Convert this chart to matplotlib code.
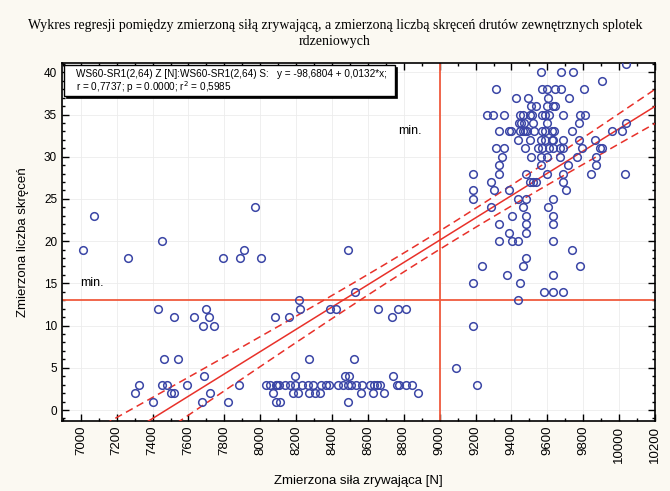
import numpy as np
import matplotlib.pyplot as plt
from matplotlib.ticker import MultipleLocator
from matplotlib.patches import Rectangle

# liczba skrecen -> zmierzona sila [N]
poziomy_lewe = [24, 23, 20, 19, 18, 14, 13, 12, 11, 10, 6, 4, 3, 2, 1]
sily_lewe = [
    [7970],
    [7072],
    [7451],
    [7013, 7910, 8490],
    [7264, 7790, 7888, 8005],
    [8527],
    [8215],
    [7431, 7700, 8220, 8390, 8420, 8655, 8770, 8810],
    [7520, 7628, 7715, 8080, 8160, 8735],
    [7682, 7743],
    [7461, 7539, 8269, 8525],
    [7689, 8193, 8470, 8492, 8737],
    [7323, 7450, 7479, 7592, 7881, 8030, 8057, 8085, 8096, 8104, 8137, 8165,
     8193, 8230, 8264, 8295, 8336, 8366, 8382, 8434, 8462, 8490, 8503, 8533,
     8565, 8611, 8633, 8648, 8670, 8763, 8773, 8815, 8845],
    [7301, 7503, 7522, 7721, 8072, 8183, 8211, 8271, 8304, 8332, 8559, 8629,
     8689, 8880],
    [7403, 7673, 7821, 8085, 8109, 8487],
]

poziomy_prawe = [41, 40, 39, 38, 37, 36, 35, 34, 33, 32, 31, 30, 29, 28, 27,
                 26, 25, 24, 23, 22, 21, 20, 19, 18, 17, 16, 15, 14, 13, 10,
                 5, 3]
sily_prawe = [
    [10036],
    [9564, 9676, 9744],
    [9902],
    [9313, 9568, 9596, 9642, 9674, 9805],
    [9423, 9493, 9601, 9722],
    [9508, 9535, 9600, 9629, 9645],
    [9261, 9295, 9358, 9447, 9462, 9503, 9516, 9568, 9586, 9610, 9685, 9780,
     9810],
    [9440, 9455, 9468, 9521, 9596, 9777, 10036],
    [9328, 9387, 9395, 9447, 9462, 9475, 9488, 9525, 9568, 9586, 9624, 9637,
     9735, 9960, 10014],
    [9434, 9503, 9562, 9586, 9624, 9633, 9689, 9777, 9865],
    [9313, 9360, 9477, 9549, 9568, 9609, 9633, 9670, 9685, 9795, 9895, 9903],
    [9345, 9510, 9562, 9600, 9672, 9763, 9871],
    [9332, 9562, 9716, 9871],
    [9183, 9332, 9480, 9599, 9685, 9841, 10032],
    [9285, 9503, 9521, 9536, 9685],
    [9183, 9302, 9387, 9703],
    [9183, 9434, 9480, 9633],
    [9285, 9462, 9601],
    [9404, 9480, 9633],
    [9332, 9480, 9633],
    [9387, 9480],
    [9332, 9404, 9438, 9633],
    [9735],
    [9480],
    [9237, 9462, 9781],
    [9376, 9633],
    [9183, 9447],
    [9582, 9633, 9685],
    [9434],
    [9183],
    [9089],
    [9209],
]

a, b = -98.6804, 0.0132   # rownanie regresji z opisu
prog_x, prog_y = 9000, 13

x = []
y = []
for poz, sily in zip(poziomy_lewe + poziomy_prawe, sily_lewe + sily_prawe):
    x += sily
    y += [poz] * len(sily)
x = np.array(x, dtype=float)
y = np.array(y, dtype=float)

# 95% przedzial ufnosci dla prostej
n = len(x)
res = y - (a + b * x)
s = np.sqrt(np.sum(res ** 2) / (n - 2))
sxx = np.sum((x - x.mean()) ** 2)
xl = np.linspace(6895, 10200, 300)
yl = a + b * xl
ci = 1.97 * s * np.sqrt(1.0 / n + (xl - x.mean()) ** 2 / sxx)

fig = plt.figure(figsize=(6.7, 4.91), dpi=100)
fig.patch.set_facecolor('#fbf9f2')
ax = fig.add_axes([62 / 670, 1 - 421 / 491, (655 - 62) / 670, (421 - 63) / 491])
ax.set_facecolor('white')

ax.grid(True, which='major', color='#ececec', lw=0.6)
ax.set_axisbelow(True)

ax.axvline(prog_x, color='#f05a3e', lw=1.3, zorder=2)
ax.axhline(prog_y, color='#f05a3e', lw=1.3, zorder=2)
ax.plot(xl, yl, color='#e8312a', lw=1.1, zorder=3)
ax.plot(xl, yl + ci, color='#e8312a', lw=1.1, ls=(0, (5, 3)), zorder=3)
ax.plot(xl, yl - ci, color='#e8312a', lw=1.1, ls=(0, (5, 3)), zorder=3)

ax.plot(x, y, 'o', mfc='none', mec='#3b46a6', ms=5.5, mew=1.1, zorder=4)

ax.text(6995, 15, 'min.', fontsize=9, va='center', family='Liberation Sans')
ax.text(8767, 33.1, 'min.', fontsize=9, va='center', family='Liberation Sans')

# ramka z opisem regresji (z cieniem)
bx0, bx1 = 0.003, 0.5615
by0, by1 = 0.908, 0.994
ax.add_patch(Rectangle((bx0 + 0.0034, by0 - 0.0056), bx1 - bx0, by1 - by0,
                       transform=ax.transAxes, fc='black', ec='black', lw=0.5,
                       zorder=5))
ax.add_patch(Rectangle((bx0, by0), bx1 - bx0, by1 - by0, transform=ax.transAxes,
                       fc='white', ec='black', lw=1, zorder=6))
ax.text(0.0236, 0.969, 'WS60-SR1(2,64) Z [N]:WS60-SR1(2,64) S:   '
        'y = -98,6804 + 0,0132*x;', transform=ax.transAxes, fontsize=7.2,
        va='center', family='Liberation Sans', zorder=7)
ax.text(0.0236, 0.932, 'r = 0,7737; p = 0.0000; r$^2$ = 0,5985',
        transform=ax.transAxes, fontsize=7.2, va='center',
        family='Liberation Sans', zorder=7)

ax.set_xlim(6895, 10200)
ax.set_ylim(-1.3, 41.1)
ax.xaxis.set_major_locator(MultipleLocator(200))
ax.xaxis.set_minor_locator(MultipleLocator(100))
ax.yaxis.set_major_locator(MultipleLocator(5))
ax.yaxis.set_minor_locator(MultipleLocator(1))
ax.tick_params(which='both', direction='in', top=True, right=True, width=1)
ax.tick_params(axis='x', labelsize=9.5)
ax.tick_params(axis='y', labelsize=8.5)
ax.tick_params(which='major', length=5)
ax.tick_params(which='minor', length=2.5)
for lab in ax.get_xticklabels() + ax.get_yticklabels():
    lab.set_family('Liberation Sans')
for lab in ax.get_xticklabels():
    lab.set_rotation(90)
for sp in ax.spines.values():
    sp.set_linewidth(1.2)

ax.set_xlabel('Zmierzona siła zrywająca [N]', fontsize=9.5,
              family='Liberation Sans', labelpad=9)
ax.set_ylabel('Zmierzona liczba skręceń', fontsize=9.5,
              family='Liberation Sans', labelpad=11)

fig.text(0.5, 0.962, 'Wykres regresji pomiędzy zmierzoną siłą zrywającą, a zmierzoną '
         'liczbą skręceń drutów zewnętrznych splotek\nrdzeniowych',
         ha='center', va='top', fontsize=10, family='Liberation Serif',
         linespacing=1.35)

fig.savefig('out.png', dpi=100, facecolor=fig.get_facecolor())
